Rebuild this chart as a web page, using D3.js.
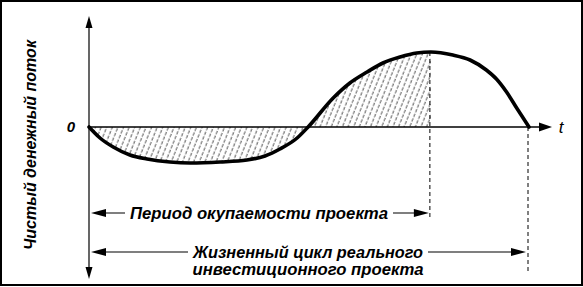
<!DOCTYPE html>
<html>
<head>
<meta http-equiv="Content-Type" content="text/html;charset=utf-8"/>
<script src="https://d3js.org/d3.v7.min.js"></script>
<style type="text/css">
body {
    margin: 0;
    background: #fff;
}
text {
    font-family: "Liberation Sans", Arial, sans-serif;
    font-style: italic;
    font-weight: bold;
    fill: #000;
}
</style>
</head>
<body>
<script>
// Chart data: time (share of project life, 0..10) and net cash flow (arbitrary units)
var tValues    = [0, 0.25, 0.55, 0.93, 1.32, 1.84, 2.3, 2.98, 3.59, 4.0, 4.34, 4.73, 4.98,
                  5.55, 5.93, 6.32, 6.68, 7.07, 7.45, 7.77, 8.27, 8.66, 9.03, 9.26, 9.49, 9.72, 10];
var flowValues = [0, -11, -20, -28, -32, -35, -36, -35, -33, -29, -22, -11, 0,
                  29, 44, 55, 64, 70, 74, 75, 72, 67, 57, 48, 35, 19, 0];
var paybackT = 7.77,
    lifeT = 10;

// Texts
var yLabel = "Чистый денежный поток";
var zeroLabel = "0";
var tLabel = "t";
var paybackLabel = "Период окупаемости проекта";
var lifeLabel = ["Жизненный цикл реального", "инвестиционного проекта"];

var width = 583,
    height = 287;

var svg = d3.select("body")
            .append("svg")
            .attr("width", width)
            .attr("height", height);

var x = d3.scaleLinear().domain([0, 10]).range([89, 529]);
var y = d3.scaleLinear().domain([-40, 80]).range([167, 47]);

var data = tValues.map(function(t, i) { return {t: t, v: flowValues[i]}; });

// frame
svg.append("rect")
   .attr("x", 1).attr("y", 1)
   .attr("width", width - 2).attr("height", height - 3)
   .attr("fill", "none")
   .attr("stroke", "#000")
   .attr("stroke-width", 2);

var defs = svg.append("defs");

// hatch pattern "////"
var hatch = defs.append("pattern")
                .attr("id", "hatch")
                .attr("patternUnits", "userSpaceOnUse")
                .attr("width", 5.2)
                .attr("height", 10)
                .attr("patternTransform", "rotate(22)");
hatch.append("line")
     .attr("x1", 1).attr("y1", 0)
     .attr("x2", 1).attr("y2", 10)
     .attr("stroke", "#000")
     .attr("stroke-width", 0.7)
     .attr("stroke-dasharray", "3.5,1.5");

defs.append("clipPath")
    .attr("id", "payback")
  .append("rect")
    .attr("x", x(0))
    .attr("y", 0)
    .attr("width", x(paybackT) - x(0))
    .attr("height", height);

// filled triangle pointing in direction (dx, dy)
function arrowHead(tipX, tipY, dx, dy, len, half) {
    var bx = tipX - dx * len, by = tipY - dy * len;
    var px = -dy * half, py = dx * half;
    svg.append("path")
       .attr("d", "M" + tipX + "," + tipY +
                  "L" + (bx + px) + "," + (by + py) +
                  "L" + (bx - px) + "," + (by - py) + "Z")
       .attr("fill", "#000");
}

// hatched area up to payback
var area = d3.area()
             .x(function(d) { return x(d.t); })
             .y0(y(0))
             .y1(function(d) { return y(d.v); })
             .curve(d3.curveMonotoneX);

svg.append("path")
   .datum(data)
   .attr("d", area)
   .attr("fill", "url(#hatch)")
   .attr("clip-path", "url(#payback)");

// axes
var x0 = x(0), y0 = y(0);
var xTip = 552, yTop = 16, yBottom = 279;

svg.append("line")
   .attr("x1", x0).attr("y1", y0)
   .attr("x2", xTip - 8).attr("y2", y0)
   .attr("stroke", "#000").attr("stroke-width", 1.6);
arrowHead(xTip, y0, 1, 0, 13, 4.5);

svg.append("line")
   .attr("x1", x0).attr("y1", yTop + 6)
   .attr("x2", x0).attr("y2", yBottom - 6)
   .attr("stroke", "#000").attr("stroke-width", 1.2);
arrowHead(x0, yTop, 0, -1, 12, 3.5);
arrowHead(x0, yBottom, 0, 1, 12, 3.5);

// vertical guides
var peak = data.filter(function(d) { return d.t === paybackT; })[0];
svg.append("line")
   .attr("x1", x(paybackT) - 1).attr("y1", y(peak.v))
   .attr("x2", x(paybackT) - 1).attr("y2", 220)
   .attr("stroke", "#000").attr("stroke-width", 1)
   .attr("stroke-dasharray", "4,3");
svg.append("line")
   .attr("x1", x(lifeT) - 1).attr("y1", y0)
   .attr("x2", x(lifeT) - 1).attr("y2", 274)
   .attr("stroke", "#000").attr("stroke-width", 1)
   .attr("stroke-dasharray", "4,3");

// cash flow curve
var line = d3.line()
             .x(function(d) { return x(d.t); })
             .y(function(d) { return y(d.v); })
             .curve(d3.curveMonotoneX);

svg.append("path")
   .datum(data)
   .attr("d", line)
   .attr("fill", "none")
   .attr("stroke", "#000")
   .attr("stroke-width", 3.6)
   .attr("stroke-linecap", "round");

// labels
svg.append("text")
   .attr("x", 71).attr("y", y0 + 5)
   .attr("text-anchor", "middle")
   .style("font-size", "15px")
   .text(zeroLabel);

svg.append("text")
   .attr("x", 561).attr("y", y0 + 6)
   .attr("text-anchor", "middle")
   .style("font-size", "17px")
   .style("font-weight", "normal")
   .text(tLabel);

svg.append("text")
   .attr("transform", "translate(36,145) rotate(-90)")
   .attr("text-anchor", "middle")
   .attr("textLength", 210)
   .attr("lengthAdjust", "spacingAndGlyphs")
   .style("font-size", "16px")
   .text(yLabel);

// dimension arrows with captions
function dimension(x1, x2, yy, cx, caption, len) {
    svg.append("line")
       .attr("x1", x1 + 8).attr("y1", yy)
       .attr("x2", x2 - 8).attr("y2", yy)
       .attr("stroke", "#000").attr("stroke-width", 1.2);
    arrowHead(x1, yy, -1, 0, 15, 4);
    arrowHead(x2, yy, 1, 0, 15, 4);
    svg.append("rect")
       .attr("x", cx - len / 2 - 5).attr("y", yy - 9)
       .attr("width", len + 10).attr("height", 18)
       .attr("fill", "#fff");
    svg.append("text")
       .attr("x", cx).attr("y", yy + 6)
       .attr("text-anchor", "middle")
       .attr("textLength", len)
       .attr("lengthAdjust", "spacingAndGlyphs")
       .style("font-size", "16px")
       .text(caption);
}

dimension(x0 + 2, x(paybackT) - 2, 213, 259, paybackLabel, 258);
dimension(x0 + 2, x(lifeT) - 3, 252, 308, lifeLabel[0], 230);

svg.append("text")
   .attr("x", 308).attr("y", 275)
   .attr("text-anchor", "middle")
   .attr("textLength", 231)
   .attr("lengthAdjust", "spacingAndGlyphs")
   .style("font-size", "16px")
   .text(lifeLabel[1]);
</script>
</body>
</html>
